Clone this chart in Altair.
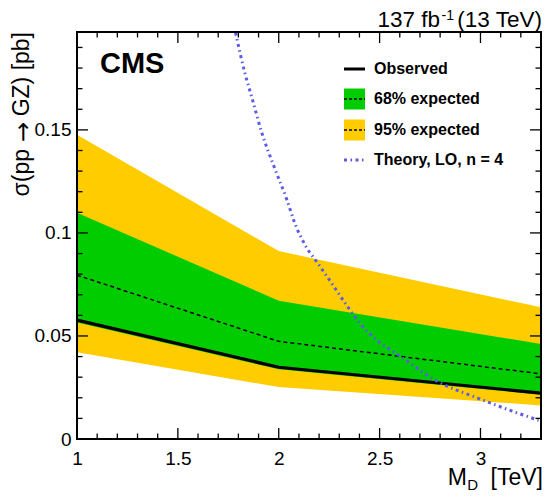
import altair as alt
import pandas as pd

# ---------------- data ----------------
mass = [1.0, 2.0, 3.3]
observed = [0.0577, 0.0348, 0.0223]
expected = [0.0795, 0.0474, 0.0316]
exp68_lo = [0.0565, 0.0338, 0.0215]
exp68_hi = [0.1098, 0.0671, 0.0461]
exp95_lo = [0.0421, 0.0252, 0.0163]
exp95_hi = [0.1477, 0.0912, 0.0639]

theory_m = [1.786, 1.834, 1.867, 1.916, 1.976, 2.041, 2.080, 2.131, 2.200,
            2.267, 2.335, 2.406, 2.490, 2.538, 2.589, 2.784, 2.996, 3.158, 3.288]
theory_xs = [0.1972, 0.1769, 0.1656, 0.1486, 0.1324, 0.1159, 0.1046, 0.0941, 0.0844,
             0.0749, 0.0651, 0.0557, 0.0477, 0.0443, 0.0410, 0.0281, 0.0195, 0.0135, 0.0091]

x_major = [1.0, 1.5, 2.0, 2.5, 3.0]
x_minor = [1.1, 1.2, 1.3, 1.4, 1.6, 1.7, 1.8, 1.9, 2.1, 2.2, 2.3, 2.4,
           2.6, 2.7, 2.8, 2.9, 3.1, 3.2]
y_major = [0.0, 0.05, 0.1, 0.15]
y_minor = [0.01, 0.02, 0.03, 0.04, 0.06, 0.07, 0.08, 0.09, 0.11, 0.12,
           0.13, 0.14, 0.16, 0.17, 0.18, 0.19]

legend_labels = ["Observed", "68% expected", "95% expected", "Theory, LO, n = 4"]

# ---------------- styling ----------------
W, H = 464, 407
FONT = "Liberation Sans"
YELLOW = "#FFCC00"
GREEN = "#00CC00"
BLUE = "#5C5CE4"

xs = alt.Scale(domain=[1, 3.3], nice=False, zero=False)
ys = alt.Scale(domain=[0, 0.1975], nice=False, zero=False)

band = pd.DataFrame({"m": mass, "obs": observed, "exp": expected,
                     "lo68": exp68_lo, "hi68": exp68_hi,
                     "lo95": exp95_lo, "hi95": exp95_hi})
theory = pd.DataFrame({"m": theory_m, "v": theory_xs})

xaxis = alt.Axis(values=x_major, format="~g", ticks=False, domain=False, grid=False,
                 labelFontSize=19, labelFont=FONT, labelColor="black",
                 labelPadding=10, labelFlush=False, labelOverlap=False, labelBound=False)
yaxis = alt.Axis(values=y_major, format="~g", ticks=False, domain=False, grid=False,
                 labelFontSize=19, labelFont=FONT, labelColor="black",
                 labelPadding=6, labelFlush=False, labelOverlap=False, labelBound=False)

yellow = alt.Chart(band).mark_area(color=YELLOW, opacity=1).encode(
    x=alt.X("m:Q", scale=xs, axis=xaxis, title=None),
    y=alt.Y("hi95:Q", scale=ys, axis=yaxis, title=None),
    y2="lo95:Q")
green = alt.Chart(band).mark_area(color=GREEN, opacity=1).encode(
    x=alt.X("m:Q", scale=xs), y=alt.Y("hi68:Q", scale=ys), y2="lo68:Q")
exp_line = alt.Chart(band).mark_line(color="black", strokeWidth=1.5, strokeDash=[4, 3]).encode(
    x=alt.X("m:Q", scale=xs), y=alt.Y("exp:Q", scale=ys))
obs_line = alt.Chart(band).mark_line(color="black", strokeWidth=3.2).encode(
    x=alt.X("m:Q", scale=xs), y=alt.Y("obs:Q", scale=ys))
theory_line = alt.Chart(theory).mark_line(
    color=BLUE, strokeWidth=3, strokeDash=[3, 3.5, 1.5, 3.5],
    interpolate="monotone", clip=True).encode(
    x=alt.X("m:Q", scale=xs), y=alt.Y("v:Q", scale=ys))

# ---------------- inward ROOT-style ticks ----------------
def xticks(vals, length):
    df = pd.DataFrame({"m": vals})
    bottom = alt.Chart(df).mark_rule(color="black", strokeWidth=1.3).encode(
        x=alt.X("m:Q", scale=xs), y=alt.value(H), y2=alt.value(H - length))
    top = alt.Chart(df).mark_rule(color="black", strokeWidth=1.3).encode(
        x=alt.X("m:Q", scale=xs), y=alt.value(0), y2=alt.value(length))
    return [bottom, top]

def yticks(vals, length):
    df = pd.DataFrame({"v": vals})
    left = alt.Chart(df).mark_rule(color="black", strokeWidth=1.3).encode(
        y=alt.Y("v:Q", scale=ys), x=alt.value(0), x2=alt.value(length))
    right = alt.Chart(df).mark_rule(color="black", strokeWidth=1.3).encode(
        y=alt.Y("v:Q", scale=ys), x=alt.value(W), x2=alt.value(W - length))
    return [left, right]

ticks = xticks(x_major, 11) + xticks(x_minor, 5.5) + yticks(y_major, 11) + yticks(y_minor, 5.5)

# ---------------- text helpers ----------------
def text(s, x, y, size, align="left", baseline="alphabetic", bold=False, angle=0, font=FONT):
    kw = dict(font=font, fontSize=size, align=align, baseline=baseline, color="black")
    if bold:
        kw["fontWeight"] = "bold"
    if angle:
        kw["angle"] = angle
    return alt.Chart(pd.DataFrame({"t": [s]})).mark_text(**kw).encode(
        text="t:N", x=alt.value(x), y=alt.value(y))

def hrule(x1, x2, y, color, width, dash=None):
    kw = dict(color=color, strokeWidth=width)
    if dash:
        kw["strokeDash"] = dash
    return alt.Chart(pd.DataFrame({"k": [0]})).mark_rule(**kw).encode(
        x=alt.value(x1), x2=alt.value(x2), y=alt.value(y))

def box(x1, x2, y1, y2, color):
    return alt.Chart(pd.DataFrame({"k": [0]})).mark_rect(color=color, opacity=1).encode(
        x=alt.value(x1), x2=alt.value(x2), y=alt.value(y1), y2=alt.value(y2))

LX1, LX2, LT = 267, 288, 297
rows = [37, 67, 98, 128]
legend = [
    hrule(LX1, LX2, rows[0], "black", 3),
    box(LX1, LX2, rows[1] - 10.5, rows[1] + 10.5, GREEN),
    hrule(LX1, LX2, rows[1], "black", 1.3, [3, 2]),
    box(LX1, LX2, rows[2] - 10.5, rows[2] + 10.5, YELLOW),
    hrule(LX1, LX2, rows[2], "black", 1.3, [3, 2]),
    hrule(LX1, LX2, rows[3], BLUE, 3, [3, 3.5, 1.5, 3.5]),
] + [text(lab, LT, r, 16, baseline="middle", bold=True) for lab, r in zip(legend_labels, rows)]

YT_X = -48  # baseline of the rotated y title
labels = [
    text("CMS", 23, 41, 29, bold=True),
    text("(13 TeV)", W + 1, -5, 22.5, align="right"),
    text("-1", 377, -12, 14, align="right"),
    text("137 fb", 363, -5, 22.5, align="right"),
    text("[TeV]", W + 2, 453, 23, align="right"),
    text("D", 401, 458, 15, align="right"),
    text("M", 390, 453, 23, align="right"),
    text("GZ) [pb]", YT_X, 0, 23, align="right", angle=270),
    text("→", -46, 90, 24, align="right", angle=270, font="DejaVu Sans"),
    text("σ(pp", YT_X, 117, 23, align="right", angle=270),
]

frame = alt.Chart(pd.DataFrame({"k": [0]})).mark_rect(
    fill=None, stroke="black", strokeWidth=2).encode(
    x=alt.value(0), x2=alt.value(W), y=alt.value(0), y2=alt.value(H))

chart = alt.layer(
    yellow, green, exp_line, obs_line, theory_line, *ticks, frame, *legend, *labels
).properties(
    width=W, height=H,
    autosize=alt.AutoSizeParams(type="none"),
    padding={"left": 69, "top": 24, "right": 2, "bottom": 55},
).configure_view(stroke=None)

chart.save("out.html", embed_options={"renderer": "svg", "actions": False})
